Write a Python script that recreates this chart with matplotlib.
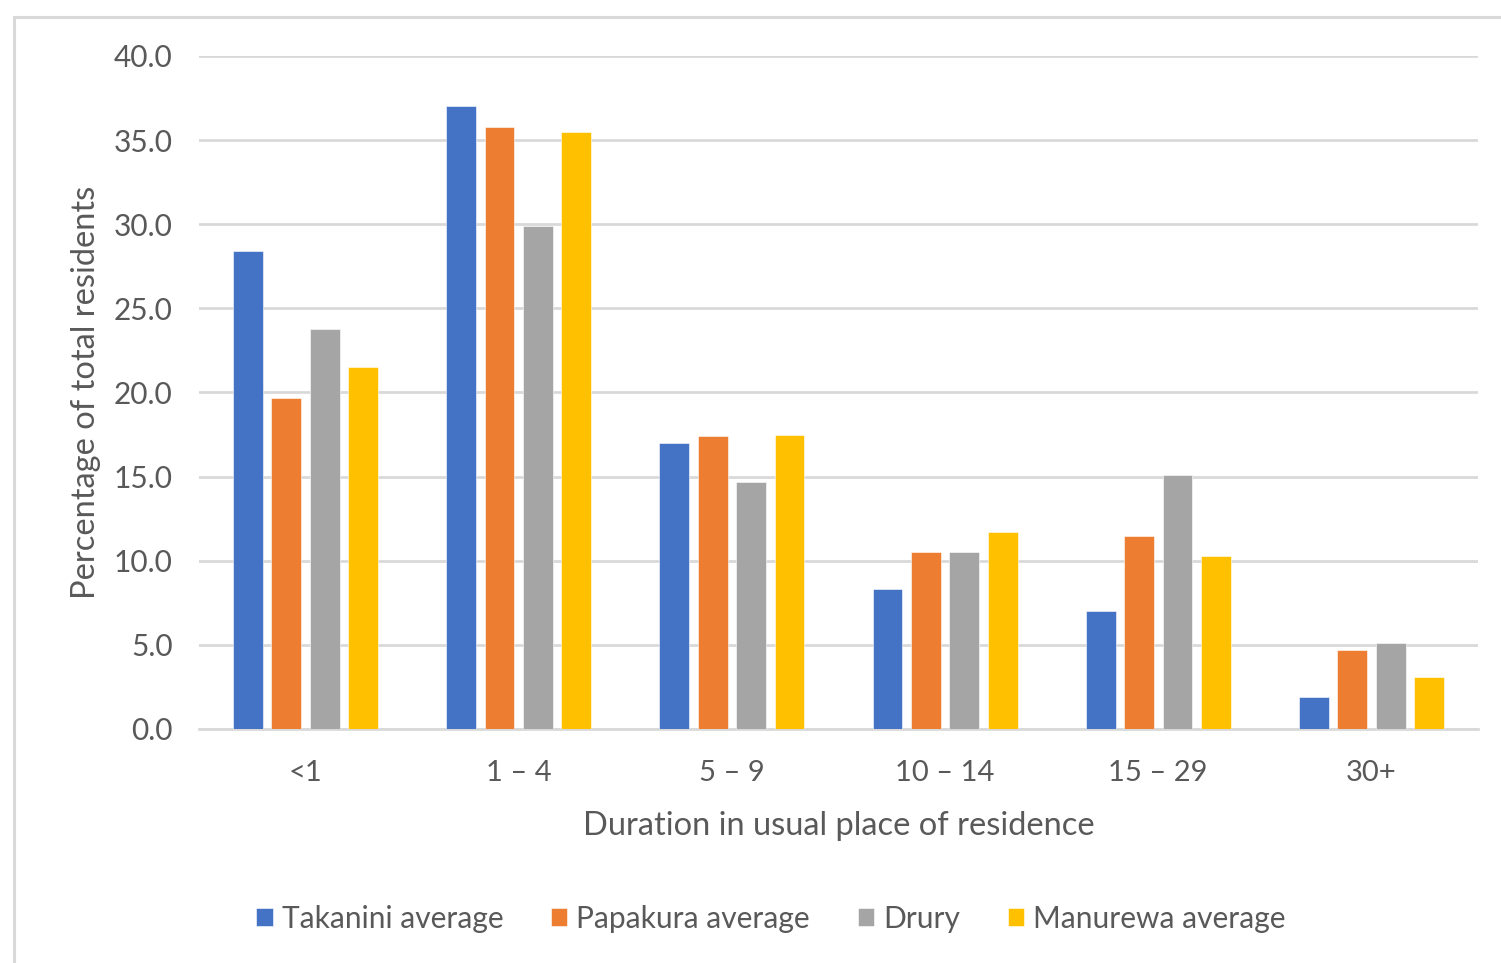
import matplotlib
matplotlib.use("Agg")
import matplotlib.pyplot as plt
from matplotlib.lines import Line2D
import numpy as np

plt.rcParams['font.family'] = ['Lato', 'DejaVu Sans']

categories = ["<1", "1 \u2013 4", "5 \u2013 9", "10 \u2013 14", "15 \u2013 29", "30+"]
series_names = ["Takanini average", "Papakura average", "Drury", "Manurewa average"]
takanini = [28.4, 37.0, 17.0, 8.3, 7.0, 1.9]
papakura = [19.7, 35.8, 17.4, 10.5, 11.5, 4.7]
drury = [23.8, 29.9, 14.7, 10.5, 15.1, 5.1]
manurewa = [21.5, 35.5, 17.5, 11.7, 10.3, 3.1]
series_values = [takanini, papakura, drury, manurewa]
colors = ["#4472C4", "#ED7D31", "#A5A5A5", "#FFC000"]
yticks = [0, 5, 10, 15, 20, 25, 30, 35, 40]

W, H = 1501, 963
fig = plt.figure(figsize=(W / 100, H / 100), dpi=100)
ax = fig.add_axes([199 / W, 1 - 729 / H, (1478 - 199) / W, (729 - 56) / H])

text_color = "#595959"
x = np.arange(len(categories))
bar_w = 0.14
pitch = 0.18
offsets = (np.arange(len(series_values)) - 1.5) * pitch
for vals, off, col, name in zip(series_values, offsets, colors, series_names):
    ax.bar(x + off, vals, width=bar_w, color=col, label=name,
           edgecolor="white", linewidth=0.4, zorder=3)

ax.set_xlim(-0.5, len(categories) - 0.5)
ax.set_ylim(0, 40)
ax.set_yticks(yticks)
ax.set_yticklabels([f"{v:.1f}" for v in yticks])
ax.set_xticks(x)
ax.set_xticklabels(categories)
ax.yaxis.grid(True, color="#d9d9d9", linewidth=2.0, zorder=0)
ax.set_axisbelow(True)
for s in ["top", "right", "left"]:
    ax.spines[s].set_visible(False)
ax.spines["bottom"].set_color("#d9d9d9")
ax.spines["bottom"].set_linewidth(2.0)
ax.tick_params(axis="y", length=0, pad=19, labelsize=21.5, labelcolor=text_color)
ax.tick_params(axis="x", length=0, pad=22, labelsize=21, labelcolor=text_color)

ax.set_xlabel("Duration in usual place of residence", fontsize=23.5,
              color=text_color, labelpad=18)
ax.set_ylabel("Percentage of total residents", fontsize=23.5,
              color=text_color, labelpad=9)

fig.legend(loc="center", bbox_to_anchor=(771 / W, 1 - 919 / H), ncol=4,
           frameon=False, fontsize=21.5, labelcolor=text_color,
           handlelength=0.55, handleheight=0.55, handletextpad=0.3,
           columnspacing=1.6)

# chart-area frame (left and top edges)
fig.add_artist(Line2D([14 / W, 14 / W], [0, 1 - 17 / H], color="#d9d9d9",
                      linewidth=2.2, transform=fig.transFigure))
fig.add_artist(Line2D([14 / W, 1], [1 - 17 / H, 1 - 17 / H], color="#d9d9d9",
                      linewidth=2.2, transform=fig.transFigure))

fig.savefig("out.png", dpi=100)
